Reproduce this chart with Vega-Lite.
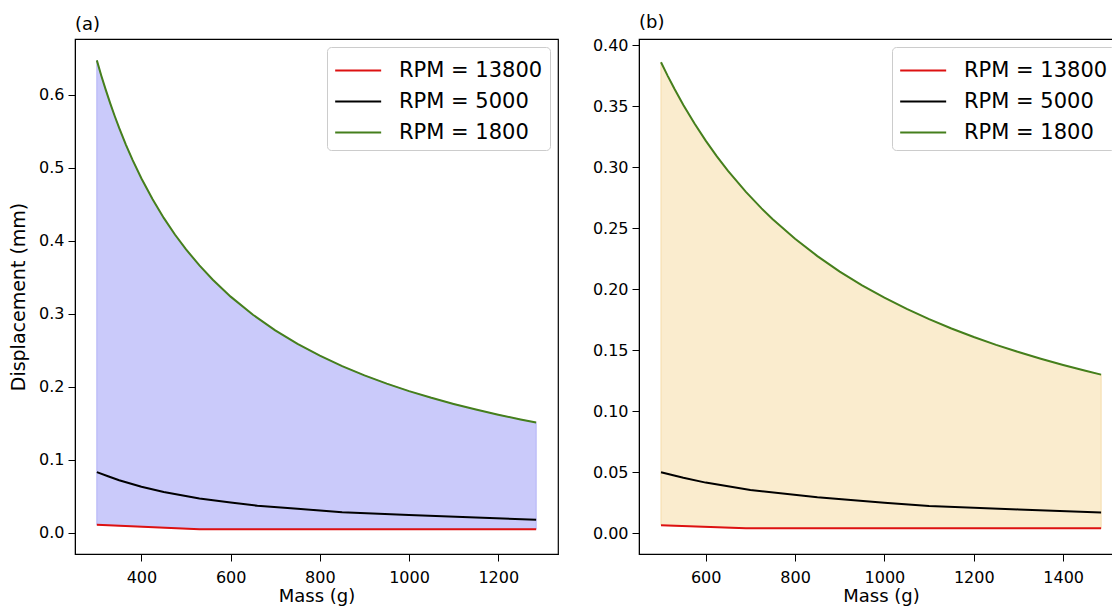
{
  "$schema": "https://vega.github.io/schema/vega-lite/v6.json",
  "padding": {"left": 8, "top": 13, "right": 0, "bottom": 0},
  "spacing": 32,
  "config": {
    "font": "DejaVu Sans",
    "view": {"stroke": "black", "strokeWidth": 1.2},
    "axis": {
      "grid": false,
      "domainColor": "black",
      "tickColor": "black",
      "labelColor": "black",
      "titleColor": "black",
      "labelFontSize": 16,
      "titleFontSize": 19,
      "titleFontWeight": "normal",
      "tickSize": 7,
      "labelPadding": 4
    },
    "title": {"fontSize": 18, "fontWeight": "normal", "anchor": "start", "frame": "group", "offset": 5, "color": "black"},
    "legend": {
      "orient": "top-right",
      "offset": 8,
      "strokeColor": "#cccccc",
      "fillColor": "rgba(255,255,255,0.85)",
      "cornerRadius": 4,
      "padding": 7,
      "labelFontSize": 21,
      "labelColor": "black",
      "symbolType": "M-1,0H2",
      "symbolSize": 940,
      "symbolStrokeWidth": 2,
      "labelOffset": 32,
      "rowPadding": 4
    }
  },
  "datasets": {
    "a_lines": [
      {"mass": 300, "disp": 0.011, "series": "RPM = 13800"},
      {"mass": 530, "disp": 0.005, "series": "RPM = 13800"},
      {"mass": 1285, "disp": 0.005, "series": "RPM = 13800"},
      {"mass": 300, "disp": 0.083, "series": "RPM = 5000"},
      {"mass": 325, "disp": 0.0775, "series": "RPM = 5000"},
      {"mass": 350, "disp": 0.072, "series": "RPM = 5000"},
      {"mass": 400, "disp": 0.063, "series": "RPM = 5000"},
      {"mass": 450, "disp": 0.056, "series": "RPM = 5000"},
      {"mass": 530, "disp": 0.047, "series": "RPM = 5000"},
      {"mass": 600, "disp": 0.0415, "series": "RPM = 5000"},
      {"mass": 660, "disp": 0.037, "series": "RPM = 5000"},
      {"mass": 750, "disp": 0.033, "series": "RPM = 5000"},
      {"mass": 850, "disp": 0.028, "series": "RPM = 5000"},
      {"mass": 1000, "disp": 0.0245, "series": "RPM = 5000"},
      {"mass": 1150, "disp": 0.021, "series": "RPM = 5000"},
      {"mass": 1285, "disp": 0.018, "series": "RPM = 5000"},
      {"mass": 300, "disp": 0.6467, "series": "RPM = 1800"},
      {"mass": 310, "disp": 0.6258, "series": "RPM = 1800"},
      {"mass": 320, "disp": 0.6063, "series": "RPM = 1800"},
      {"mass": 330, "disp": 0.5879, "series": "RPM = 1800"},
      {"mass": 340, "disp": 0.5706, "series": "RPM = 1800"},
      {"mass": 350, "disp": 0.5543, "series": "RPM = 1800"},
      {"mass": 365, "disp": 0.5315, "series": "RPM = 1800"},
      {"mass": 380, "disp": 0.5105, "series": "RPM = 1800"},
      {"mass": 400, "disp": 0.4850, "series": "RPM = 1800"},
      {"mass": 425, "disp": 0.4565, "series": "RPM = 1800"},
      {"mass": 450, "disp": 0.4311, "series": "RPM = 1800"},
      {"mass": 475, "disp": 0.4084, "series": "RPM = 1800"},
      {"mass": 500, "disp": 0.3880, "series": "RPM = 1800"},
      {"mass": 530, "disp": 0.3660, "series": "RPM = 1800"},
      {"mass": 560, "disp": 0.3464, "series": "RPM = 1800"},
      {"mass": 600, "disp": 0.3233, "series": "RPM = 1800"},
      {"mass": 650, "disp": 0.2985, "series": "RPM = 1800"},
      {"mass": 700, "disp": 0.2771, "series": "RPM = 1800"},
      {"mass": 750, "disp": 0.2587, "series": "RPM = 1800"},
      {"mass": 800, "disp": 0.2425, "series": "RPM = 1800"},
      {"mass": 850, "disp": 0.2282, "series": "RPM = 1800"},
      {"mass": 900, "disp": 0.2156, "series": "RPM = 1800"},
      {"mass": 950, "disp": 0.2042, "series": "RPM = 1800"},
      {"mass": 1000, "disp": 0.1940, "series": "RPM = 1800"},
      {"mass": 1050, "disp": 0.1848, "series": "RPM = 1800"},
      {"mass": 1100, "disp": 0.1764, "series": "RPM = 1800"},
      {"mass": 1150, "disp": 0.1687, "series": "RPM = 1800"},
      {"mass": 1200, "disp": 0.1617, "series": "RPM = 1800"},
      {"mass": 1250, "disp": 0.1552, "series": "RPM = 1800"},
      {"mass": 1285, "disp": 0.1510, "series": "RPM = 1800"}
    ],
    "a_fill": [
      {"mass": 300, "lo": 0.011, "hi": 0.6467},
      {"mass": 310, "lo": 0.0107, "hi": 0.6258},
      {"mass": 320, "lo": 0.0105, "hi": 0.6063},
      {"mass": 330, "lo": 0.0102, "hi": 0.5879},
      {"mass": 340, "lo": 0.0100, "hi": 0.5706},
      {"mass": 350, "lo": 0.0097, "hi": 0.5543},
      {"mass": 365, "lo": 0.0093, "hi": 0.5315},
      {"mass": 380, "lo": 0.0089, "hi": 0.5105},
      {"mass": 400, "lo": 0.0084, "hi": 0.4850},
      {"mass": 425, "lo": 0.0077, "hi": 0.4565},
      {"mass": 450, "lo": 0.0071, "hi": 0.4311},
      {"mass": 475, "lo": 0.0064, "hi": 0.4084},
      {"mass": 500, "lo": 0.0058, "hi": 0.3880},
      {"mass": 530, "lo": 0.005, "hi": 0.3660},
      {"mass": 560, "lo": 0.005, "hi": 0.3464},
      {"mass": 600, "lo": 0.005, "hi": 0.3233},
      {"mass": 650, "lo": 0.005, "hi": 0.2985},
      {"mass": 700, "lo": 0.005, "hi": 0.2771},
      {"mass": 750, "lo": 0.005, "hi": 0.2587},
      {"mass": 800, "lo": 0.005, "hi": 0.2425},
      {"mass": 850, "lo": 0.005, "hi": 0.2282},
      {"mass": 900, "lo": 0.005, "hi": 0.2156},
      {"mass": 950, "lo": 0.005, "hi": 0.2042},
      {"mass": 1000, "lo": 0.005, "hi": 0.1940},
      {"mass": 1050, "lo": 0.005, "hi": 0.1848},
      {"mass": 1100, "lo": 0.005, "hi": 0.1764},
      {"mass": 1150, "lo": 0.005, "hi": 0.1687},
      {"mass": 1200, "lo": 0.005, "hi": 0.1617},
      {"mass": 1250, "lo": 0.005, "hi": 0.1552},
      {"mass": 1285, "lo": 0.005, "hi": 0.1510}
    ],
    "b_lines": [
      {"mass": 500, "disp": 0.0065, "series": "RPM = 13800"},
      {"mass": 690, "disp": 0.004, "series": "RPM = 13800"},
      {"mass": 1485, "disp": 0.004, "series": "RPM = 13800"},
      {"mass": 500, "disp": 0.050, "series": "RPM = 5000"},
      {"mass": 550, "disp": 0.0455, "series": "RPM = 5000"},
      {"mass": 600, "disp": 0.0415, "series": "RPM = 5000"},
      {"mass": 700, "disp": 0.0355, "series": "RPM = 5000"},
      {"mass": 850, "disp": 0.0295, "series": "RPM = 5000"},
      {"mass": 1000, "disp": 0.025, "series": "RPM = 5000"},
      {"mass": 1100, "disp": 0.0223, "series": "RPM = 5000"},
      {"mass": 1300, "disp": 0.0195, "series": "RPM = 5000"},
      {"mass": 1485, "disp": 0.017, "series": "RPM = 5000"},
      {"mass": 500, "disp": 0.3860, "series": "RPM = 1800"},
      {"mass": 515, "disp": 0.3748, "series": "RPM = 1800"},
      {"mass": 530, "disp": 0.3642, "series": "RPM = 1800"},
      {"mass": 550, "disp": 0.3509, "series": "RPM = 1800"},
      {"mass": 575, "disp": 0.3357, "series": "RPM = 1800"},
      {"mass": 600, "disp": 0.3217, "series": "RPM = 1800"},
      {"mass": 625, "disp": 0.3088, "series": "RPM = 1800"},
      {"mass": 650, "disp": 0.2969, "series": "RPM = 1800"},
      {"mass": 690, "disp": 0.2797, "series": "RPM = 1800"},
      {"mass": 725, "disp": 0.2662, "series": "RPM = 1800"},
      {"mass": 750, "disp": 0.2573, "series": "RPM = 1800"},
      {"mass": 800, "disp": 0.2413, "series": "RPM = 1800"},
      {"mass": 850, "disp": 0.2271, "series": "RPM = 1800"},
      {"mass": 900, "disp": 0.2144, "series": "RPM = 1800"},
      {"mass": 950, "disp": 0.2032, "series": "RPM = 1800"},
      {"mass": 1000, "disp": 0.1930, "series": "RPM = 1800"},
      {"mass": 1050, "disp": 0.1838, "series": "RPM = 1800"},
      {"mass": 1100, "disp": 0.1755, "series": "RPM = 1800"},
      {"mass": 1150, "disp": 0.1678, "series": "RPM = 1800"},
      {"mass": 1200, "disp": 0.1608, "series": "RPM = 1800"},
      {"mass": 1250, "disp": 0.1544, "series": "RPM = 1800"},
      {"mass": 1300, "disp": 0.1485, "series": "RPM = 1800"},
      {"mass": 1350, "disp": 0.1430, "series": "RPM = 1800"},
      {"mass": 1400, "disp": 0.1379, "series": "RPM = 1800"},
      {"mass": 1450, "disp": 0.1331, "series": "RPM = 1800"},
      {"mass": 1485, "disp": 0.1300, "series": "RPM = 1800"}
    ],
    "b_fill": [
      {"mass": 500, "lo": 0.0065, "hi": 0.3860},
      {"mass": 515, "lo": 0.0063, "hi": 0.3748},
      {"mass": 530, "lo": 0.0061, "hi": 0.3642},
      {"mass": 550, "lo": 0.0058, "hi": 0.3509},
      {"mass": 575, "lo": 0.0055, "hi": 0.3357},
      {"mass": 600, "lo": 0.0052, "hi": 0.3217},
      {"mass": 625, "lo": 0.0049, "hi": 0.3088},
      {"mass": 650, "lo": 0.0045, "hi": 0.2969},
      {"mass": 690, "lo": 0.004, "hi": 0.2797},
      {"mass": 725, "lo": 0.004, "hi": 0.2662},
      {"mass": 750, "lo": 0.004, "hi": 0.2573},
      {"mass": 800, "lo": 0.004, "hi": 0.2413},
      {"mass": 850, "lo": 0.004, "hi": 0.2271},
      {"mass": 900, "lo": 0.004, "hi": 0.2144},
      {"mass": 950, "lo": 0.004, "hi": 0.2032},
      {"mass": 1000, "lo": 0.004, "hi": 0.1930},
      {"mass": 1050, "lo": 0.004, "hi": 0.1838},
      {"mass": 1100, "lo": 0.004, "hi": 0.1755},
      {"mass": 1150, "lo": 0.004, "hi": 0.1678},
      {"mass": 1200, "lo": 0.004, "hi": 0.1608},
      {"mass": 1250, "lo": 0.004, "hi": 0.1544},
      {"mass": 1300, "lo": 0.004, "hi": 0.1485},
      {"mass": 1350, "lo": 0.004, "hi": 0.1430},
      {"mass": 1400, "lo": 0.004, "hi": 0.1379},
      {"mass": 1450, "lo": 0.004, "hi": 0.1331},
      {"mass": 1485, "lo": 0.004, "hi": 0.1300}
    ]
  },
  "resolve": {"legend": {"color": "independent"}, "scale": {"color": "independent"}},
  "hconcat": [
    {
      "width": 483,
      "height": 515,
      "title": "(a)",
      "layer": [
        {
          "data": {"name": "a_fill"},
          "mark": {"type": "area", "color": "#cacafa", "stroke": "#b4b4f6", "strokeWidth": 1},
          "encoding": {
            "x": {"field": "mass", "type": "quantitative", "scale": {"domain": [251, 1334], "nice": false, "zero": false}, "axis": {"values": [400, 600, 800, 1000, 1200], "format": "d", "title": "Mass (g)", "titleFontSize": 18, "labelPadding": 8, "titlePadding": 2}},
            "y": {"field": "hi", "type": "quantitative", "scale": {"domain": [-0.029, 0.676], "nice": false, "zero": false}, "axis": {"values": [0, 0.1, 0.2, 0.3, 0.4, 0.5, 0.6], "format": ".1f", "title": "Displacement (mm)", "titlePadding": 10}},
            "y2": {"field": "lo"}
          }
        },
        {
          "data": {"name": "a_lines"},
          "mark": {"type": "line", "strokeWidth": 2},
          "encoding": {
            "x": {"field": "mass", "type": "quantitative"},
            "y": {"field": "disp", "type": "quantitative"},
            "order": {"field": "mass"},
            "color": {"field": "series", "type": "nominal", "scale": {"domain": ["RPM = 13800", "RPM = 5000", "RPM = 1800"], "range": ["#dd1111", "#000000", "#457f1c"]}, "legend": {"title": null}}
          }
        }
      ]
    },
    {
      "width": 484,
      "height": 515,
      "title": "(b)",
      "layer": [
        {
          "data": {"name": "b_fill"},
          "mark": {"type": "area", "color": "#faecce", "stroke": "#f5dcaa", "strokeWidth": 1},
          "encoding": {
            "x": {"field": "mass", "type": "quantitative", "scale": {"domain": [450.75, 1534], "nice": false, "zero": false}, "axis": {"values": [600, 800, 1000, 1200, 1400], "format": "d", "title": "Mass (g)", "titleFontSize": 18, "labelPadding": 8, "titlePadding": 2}},
            "y": {"field": "hi", "type": "quantitative", "scale": {"domain": [-0.017, 0.405], "nice": false, "zero": false}, "axis": {"values": [0, 0.05, 0.1, 0.15, 0.2, 0.25, 0.3, 0.35, 0.4], "format": ".2f", "title": null}},
            "y2": {"field": "lo"}
          }
        },
        {
          "data": {"name": "b_lines"},
          "mark": {"type": "line", "strokeWidth": 2},
          "encoding": {
            "x": {"field": "mass", "type": "quantitative"},
            "y": {"field": "disp", "type": "quantitative"},
            "order": {"field": "mass"},
            "color": {"field": "series", "type": "nominal", "scale": {"domain": ["RPM = 13800", "RPM = 5000", "RPM = 1800"], "range": ["#dd1111", "#000000", "#457f1c"]}, "legend": {"title": null}}
          }
        }
      ]
    }
  ]
}
